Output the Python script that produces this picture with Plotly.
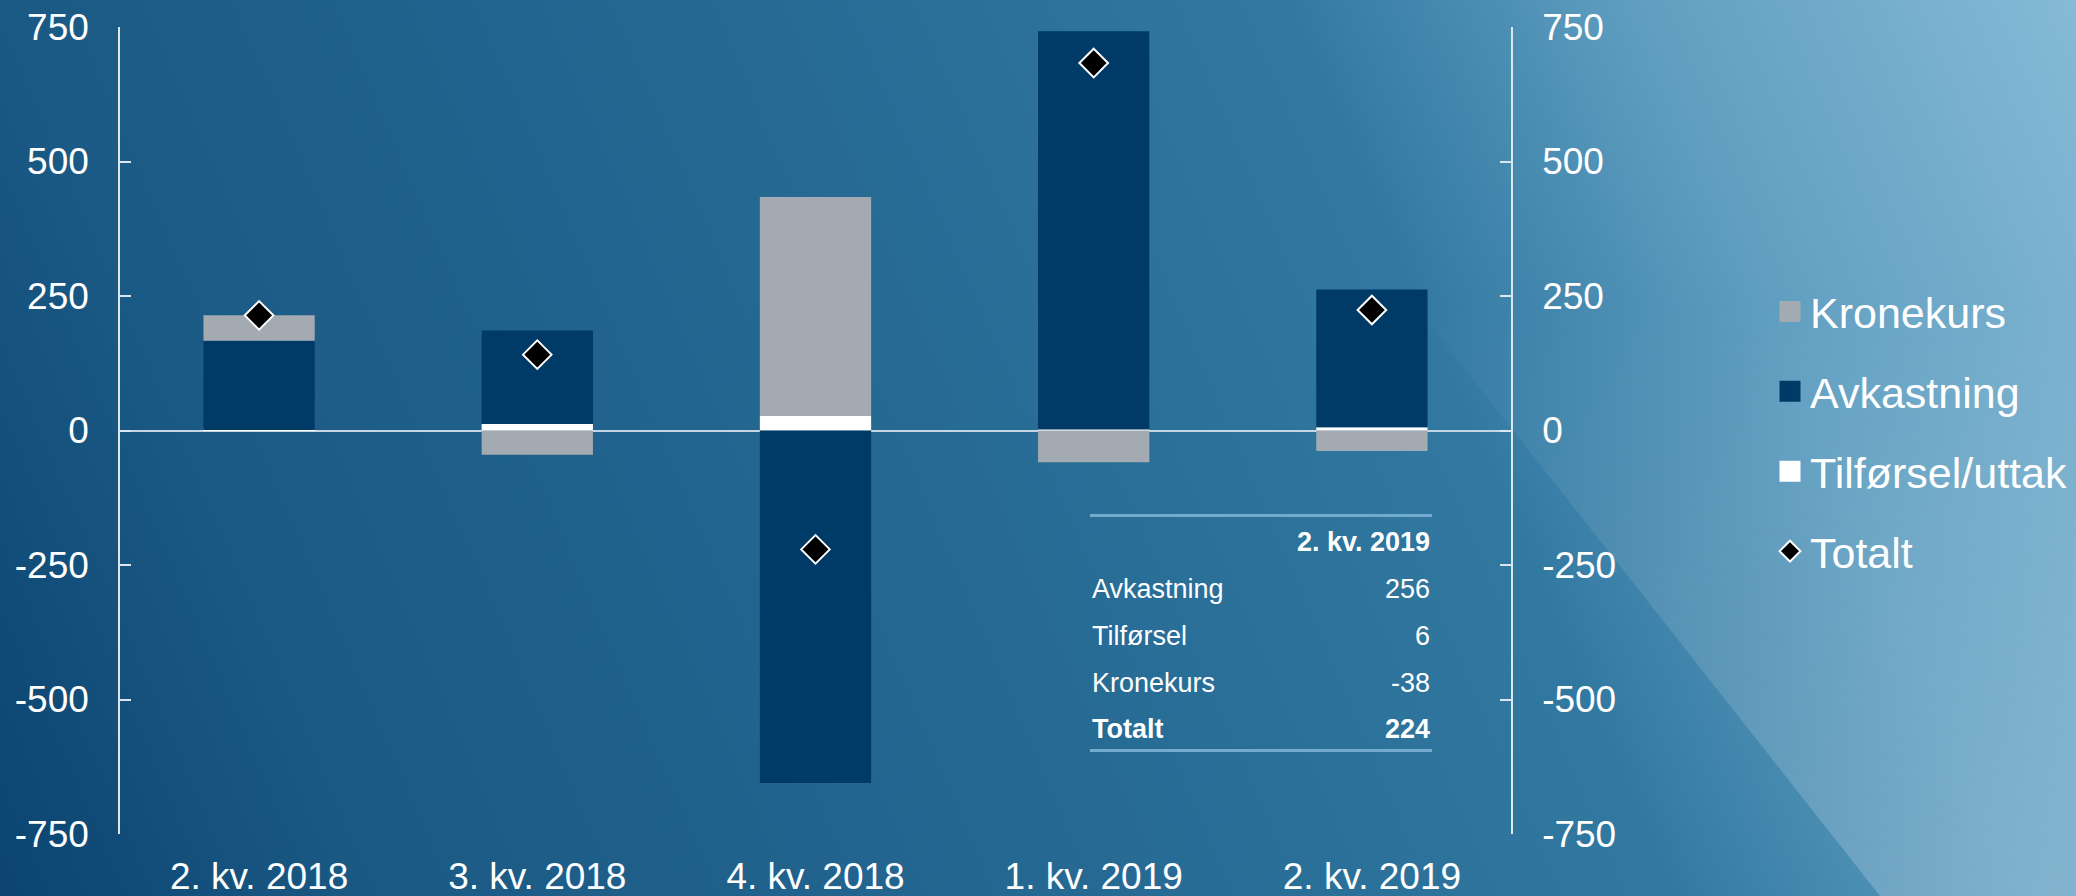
import base64
import plotly.graph_objects as go

# ---- data ----
categories = ["2. kv. 2018", "3. kv. 2018", "4. kv. 2018", "1. kv. 2019", "2. kv. 2019"]
avkastning = [166, 174, -655, 740, 256]
tilforsel = [1, 12, 27, 2, 6]
kronekurs = [47, -45, 407, -59, -38]
totalt = [214, 141, -221, 683, 224]

y_ticks = [-750, -500, -250, 0, 250, 500, 750]
y_ticktext = ["-750", "-500", "-250", "0", "250", "500", "750"]

table_header = "2. kv. 2019"
table_labels = ["Avkastning", "Tilførsel", "Kronekurs", "Totalt"]
table_values = ["256", "6", "-38", "224"]

# ---- styling ----
W, H = 2076, 896
ML, MR, MT, MB = 120, 565, 27, 62
PW, PH = W - ML - MR, H - MT - MB
FONT = "Arial, Liberation Sans, sans-serif"
C_AVK = "#003a66"
C_KRON = "#a3aab1"
C_TILF = "#ffffff"
AXIS_C = "#dce6ee"


def px2paper(px, py):
    return (px - ML) / PW, (H - MB - py) / PH


svg = f'''<svg xmlns="http://www.w3.org/2000/svg" width="{W}" height="{H}" viewBox="0 0 {W} {H}" preserveAspectRatio="none">
<defs>
<linearGradient id="g" gradientUnits="userSpaceOnUse" x1="0" y1="{H}" x2="{W}" y2="0">
<stop offset="0" stop-color="#0b4470"/>
<stop offset="0.15" stop-color="#1a5984"/>
<stop offset="0.3" stop-color="#20618c"/>
<stop offset="0.55" stop-color="#2a7099"/>
<stop offset="0.68" stop-color="#3279a2"/>
<stop offset="0.82" stop-color="#5f9ec0"/>
<stop offset="1" stop-color="#86bad6"/>
</linearGradient>
<linearGradient id="w" gradientUnits="userSpaceOnUse" x1="0" y1="300" x2="0" y2="{H}">
<stop offset="0" stop-color="#ffffff" stop-opacity="0"/>
<stop offset="0.35" stop-color="#ffffff" stop-opacity="0.08"/>
<stop offset="1" stop-color="#ffffff" stop-opacity="0.2"/>
</linearGradient>
</defs>
<rect width="{W}" height="{H}" fill="url(#g)"/>
<polygon points="1174,0 {W},0 {W},{H} 1880,{H}" fill="url(#w)"/>
</svg>'''
bg_uri = "data:image/svg+xml;base64," + base64.b64encode(svg.encode()).decode()

fig = go.Figure()

# stacking order (relative): Tilførsel, Avkastning, Kronekurs
fig.add_trace(go.Bar(x=categories, y=tilforsel, name="Tilførsel/uttak",
                     marker=dict(color=C_TILF, line=dict(width=0)), showlegend=False))
fig.add_trace(go.Bar(x=categories, y=avkastning, name="Avkastning",
                     marker=dict(color=C_AVK, line=dict(width=0)), showlegend=False))
fig.add_trace(go.Bar(x=categories, y=kronekurs, name="Kronekurs",
                     marker=dict(color=C_KRON, line=dict(width=0)), showlegend=False))
fig.add_trace(go.Scatter(x=categories, y=totalt, name="Totalt", mode="markers",
                         marker=dict(symbol="diamond", size=22, color="black",
                                     line=dict(color="white", width=2)),
                         showlegend=False))

# legend entries
legend_items = [("Kronekurs", "square", C_KRON, C_KRON, 5),
                ("Avkastning", "square", C_AVK, C_AVK, 5),
                ("Tilførsel/uttak", "square", C_TILF, C_TILF, 5),
                ("Totalt", "diamond", "black", "white", 2)]
for i, (nm, sym, col, lcol, lw) in enumerate(legend_items):
    fig.add_trace(go.Scatter(x=[None], y=[None], name=nm, mode="markers", yaxis="y2",
                             legendgroup=f"g{i}", legendrank=i + 1,
                             marker=dict(symbol=sym, size=16, color=col,
                                         line=dict(color=lcol, width=lw))))

axis_common = dict(range=[-750, 750], tickvals=y_ticks, ticktext=y_ticktext,
                   showgrid=False, showline=True, linecolor=AXIS_C, linewidth=1.5,
                   ticks="inside", ticklen=11, tickcolor=AXIS_C, tickwidth=1.5,
                   tickfont=dict(family=FONT, size=37, color="white"),
                   ticklabelstandoff=22, fixedrange=True)

fig.update_layout(
    width=W, height=H,
    margin=dict(l=ML, r=MR, t=MT, b=MB, autoexpand=False),
    paper_bgcolor="#1a5984", plot_bgcolor="rgba(0,0,0,0)",
    barmode="relative", bargap=0.6,
    font=dict(family=FONT, color="white"),
    xaxis=dict(showgrid=False, showline=False, zeroline=False, ticks="",
               tickfont=dict(family=FONT, size=37, color="white"),
               ticklabelstandoff=17, fixedrange=True),
    yaxis=dict(**axis_common, zeroline=True, zerolinecolor="#c4d6e3", zerolinewidth=1.5),
    yaxis2=dict(**axis_common, overlaying="y", side="right", zeroline=False),
    legend=dict(x=px2paper(1770, 0)[0], xanchor="left",
                y=px2paper(0, 277)[1], yanchor="top",
                font=dict(family=FONT, size=43, color="white"),
                bgcolor="rgba(0,0,0,0)", tracegroupgap=21, itemsizing="trace"),
    showlegend=True,
    images=[dict(source=bg_uri, xref="paper", yref="paper",
                 x=-ML / PW, y=(H - MB) / PH, sizex=W / PW, sizey=H / PH,
                 xanchor="left", yanchor="top", sizing="stretch", layer="below")],
)

# table
TL, TR = 1090, 1432
line_c = "#72abcd"
for py in (515.5, 750.5):
    x0, y0 = px2paper(TL, py)
    x1, _ = px2paper(TR, py)
    fig.add_shape(type="line", xref="paper", yref="paper", x0=x0, x1=x1, y0=y0, y1=y0,
                  line=dict(color=line_c, width=3))

row_y = [589, 636, 683, 729]
TFS = 27
hx, hy = px2paper(TR, 542)
fig.add_annotation(x=hx, y=hy, xref="paper", yref="paper", text=f"<b>{table_header}</b>",
                   showarrow=False, xanchor="right", yanchor="middle",
                   font=dict(family=FONT, size=TFS, color="white"))
for lbl, val, py in zip(table_labels, table_values, row_y):
    bold = lbl == "Totalt"
    lx, ly = px2paper(TL, py)
    rx, _ = px2paper(TR, py)
    fig.add_annotation(x=lx, y=ly, xref="paper", yref="paper",
                       text=f"<b>{lbl}</b>" if bold else lbl,
                       showarrow=False, xanchor="left", yanchor="middle",
                       font=dict(family=FONT, size=TFS, color="white"))
    fig.add_annotation(x=rx, y=ly, xref="paper", yref="paper",
                       text=f"<b>{val}</b>" if bold else val,
                       showarrow=False, xanchor="right", yanchor="middle",
                       font=dict(family=FONT, size=TFS, color="white"))

fig.write_html("out.html",
               config={"displayModeBar": False},
               post_script="document.body.style.margin='0';document.body.style.overflow='hidden';")
